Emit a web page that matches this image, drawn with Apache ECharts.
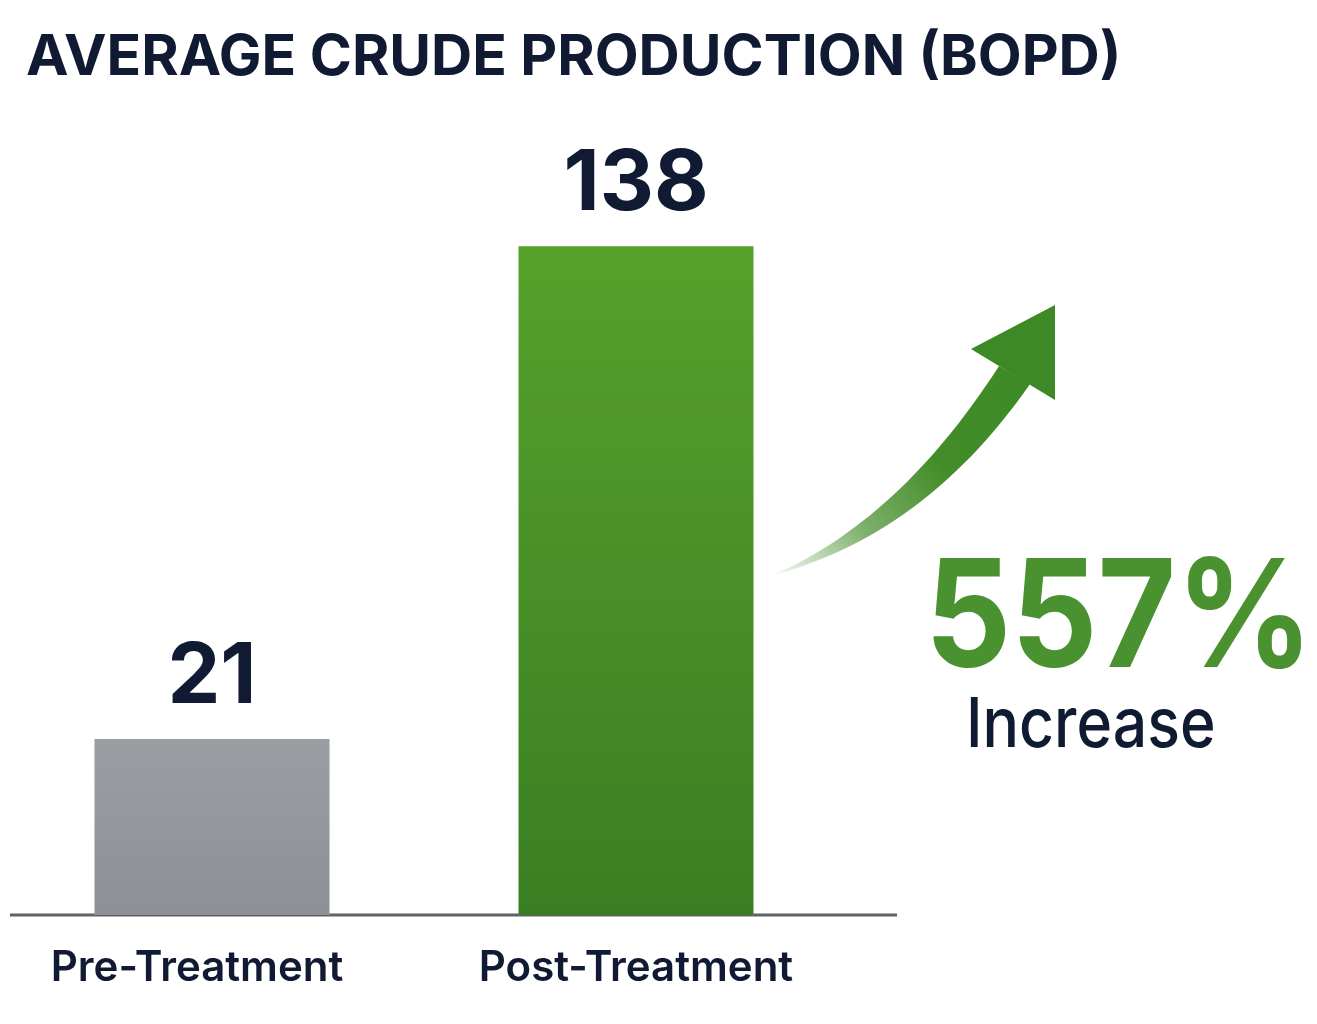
<!DOCTYPE html>
<html>
<head>
<meta charset="utf-8">
<title>Average Crude Production (BOPD)</title>
<script src="https://cdn.jsdelivr.net/npm/echarts@6/dist/echarts.min.js"></script>
<style>
  html, body { margin: 0; padding: 0; background: #ffffff; }
  #chart { width: 1317px; height: 1024px; }
</style>
</head>
<body>
<div id="chart"></div>
<script>
// data
var categories = ['Pre-Treatment', 'Post-Treatment'];
var production = [21, 138];
var increaseText = '557%';
var increaseLabel = 'Increase';
var titleText = 'AVERAGE CRUDE PRODUCTION (BOPD)';

// bars in the picture are not drawn to a linear scale, a log axis fits them
var yMin = 10.72;
var yMax = 200;

var navy = '#111a33';
var green = '#4a9230';
var font = 'Inter, "Noto Sans", sans-serif';

// quadratic curve -> list of points (for the arrow shaft outline)
function quad(p0, c, p1, n) {
    var pts = [];
    for (var i = 0; i <= n; i++) {
        var t = i / n, u = 1 - t;
        pts.push([u * u * p0[0] + 2 * u * t * c[0] + t * t * p1[0],
                  u * u * p0[1] + 2 * u * t * c[1] + t * t * p1[1]]);
    }
    return pts;
}
var shaft = quad([999, 366], [900, 520], [773, 575], 30)
    .concat(quad([773, 575], [925, 535], [1030, 384], 30).slice(1));

var chart = echarts.init(document.getElementById('chart'), null, { renderer: 'canvas' });

var option = {
    backgroundColor: '#ffffff',
    animation: false,
    title: {
        text: titleText,
        left: 21,
        top: 24,
        textStyle: { fontFamily: font, fontWeight: 'bold', fontSize: 57, color: navy }
    },
    grid: { left: 0, right: 469, top: 149, bottom: 109 },
    xAxis: {
        type: 'category',
        data: categories.map(function (c, i) {
            // first label sits a little left of its bar in the picture
            return i === 0 ? { value: c, textStyle: { padding: [0, 30, 0, 0] } } : c;
        }),
        axisLine: { show: false },
        axisTick: { show: false },
        axisLabel: {
            interval: 0,
            hideOverlap: false,
            margin: 32,
            fontFamily: font,
            fontWeight: 600,
            fontSize: 42,
            color: navy
        }
    },
    yAxis: {
        type: 'log',
        min: yMin,
        max: yMax,
        show: false,
        splitLine: { show: false }
    },
    series: [{
        type: 'bar',
        data: production.map(function (v, i) {
            return {
                value: v,
                itemStyle: {
                    color: i === 0
                        ? new echarts.graphic.LinearGradient(0, 0, 0, 1, [
                            { offset: 0, color: '#9a9da2' },
                            { offset: 1, color: '#8d9095' }])
                        : new echarts.graphic.LinearGradient(0, 0, 0, 1, [
                            { offset: 0, color: '#56a12b' },
                            { offset: 1, color: '#3a7e23' }])
                }
            };
        }),
        barWidth: 235,
        clip: true,
        label: {
            show: true,
            position: 'top',
            distance: 19,
            fontFamily: font,
            fontWeight: 'bold',
            fontSize: 84,
            lineHeight: 84,
            color: navy
        }
    }],
    graphic: [
        {   // baseline
            type: 'line',
            shape: { x1: 10, y1: 915, x2: 897, y2: 915 },
            style: { stroke: '#5f6368', lineWidth: 3 }
        },
        {   // arrow shaft
            type: 'polygon',
            shape: { points: shaft },
            style: {
                fill: new echarts.graphic.LinearGradient(0, 1, 1, 0, [
                    { offset: 0, color: 'rgba(74,146,48,0.05)' },
                    { offset: 0.3, color: 'rgba(70,142,44,0.7)' },
                    { offset: 0.6, color: '#428d29' },
                    { offset: 1, color: '#3d8926' }])
            }
        },
        {   // arrow head
            type: 'polygon',
            shape: { points: [[971, 349], [1055, 305], [1055, 400]] },
            style: { fill: '#3d8926' }
        },
        {
            type: 'text',
            x: 925,
            y: 547,
            scaleX: 0.9,
            style: {
                text: increaseText,
                x: 0,
                y: 0,
                verticalAlign: 'top',
                fontFamily: font,
                fontWeight: 'bold',
                fontSize: 150,
                fill: green
            }
        },
        {
            type: 'text',
            x: 966,
            y: 692,
            scaleX: 0.88,
            style: {
                text: increaseLabel,
                x: 0,
                y: 0,
                verticalAlign: 'top',
                fontFamily: font,
                fontWeight: 500,
                fontSize: 69,
                fill: navy
            }
        }
    ]
};

chart.setOption(option);
</script>
</body>
</html>
